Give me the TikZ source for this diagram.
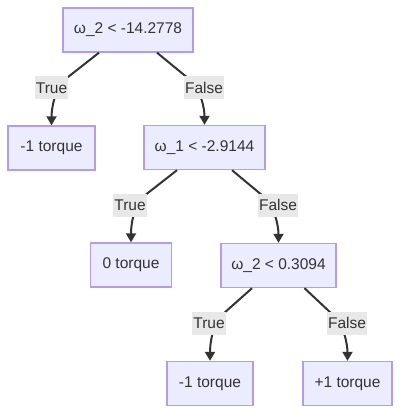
\documentclass[tikz,border=0pt]{standalone}
\usepackage{fontspec}
\setmainfont{Liberation Sans}
\usetikzlibrary{arrows.meta,calc}
\definecolor{nodefill}{HTML}{ECECFF}
\definecolor{nodeline}{HTML}{B49CE8}
\definecolor{ink}{HTML}{333333}
\definecolor{labfill}{HTML}{E8E8E8}
\begin{document}
\begin{tikzpicture}[x=1pt,y=-1pt,
  box/.style={draw=nodeline, line width=1.4pt, fill=nodefill, text=ink,
    font=\fontsize{15.5}{18}\selectfont, minimum height=44pt, inner sep=0pt},
  lab/.style={fill=labfill, text=ink, font=\fontsize{15.5}{18}\selectfont,
    inner xsep=1pt, inner ysep=0pt, minimum height=23pt},
  edge/.style={draw=ink, line width=2pt, -{Triangle[length=9pt,width=10pt]}}]
\useasboundingbox (0,0) rectangle (400,414);
% decision and leaf nodes
\node[box, minimum width=130pt] (n1) at (128,30) {ω\_2 < -14.2778};
\node[box, minimum width=87pt]  (c1) at (51.5,148) {-1 torque};
\node[box, minimum width=121pt] (n2) at (204.5,147.5) {ω\_1 < -2.9144};
\node[box, minimum width=81pt]  (c2) at (131,265) {0 torque};
\node[box, minimum width=115pt] (n3) at (278.5,265.5) {ω\_2 < 0.3094};
\node[box, minimum width=86pt]  (c3) at (210,383.5) {-1 torque};
\node[box, minimum width=89pt]  (c4) at (347.5,383.5) {+1 torque};
% label positions
\coordinate (t1) at (51.5,88);
\coordinate (f1) at (204,88);
\coordinate (t2) at (130,205);
\coordinate (f2) at (278,205);
\coordinate (t3) at (209,323);
\coordinate (f3) at (347,323);
% edges
\draw[edge] ($(n1.south)+(-29,0)$) -- ($(t1)+(14,-9)$)
  .. controls ($(t1)+(3,1)$) and ($(c1.north)+(0,-16)$) .. (c1.north);
\draw[edge] ($(n1.south)+(29,0)$) -- ($(f1)+(-15,-9)$)
  .. controls ($(f1)+(-3,1)$) and ($(n2.north)+(0,-16)$) .. (n2.north);
\draw[edge] ($(n2.south)+(-27.5,0)$) -- ($(t2)+(14,-9)$)
  .. controls ($(t2)+(3,1)$) and ($(c2.north)+(0,-16)$) .. (c2.north);
\draw[edge] ($(n2.south)+(27.5,0)$) -- ($(f2)+(-15,-9)$)
  .. controls ($(f2)+(-3,1)$) and ($(n3.north)+(0,-16)$) .. (n3.north);
\draw[edge] ($(n3.south)+(-26.5,0)$) -- ($(t3)+(14,-9)$)
  .. controls ($(t3)+(3,1)$) and ($(c3.north)+(0,-16)$) .. (c3.north);
\draw[edge] ($(n3.south)+(26,0)$) -- ($(f3)+(-15,-9)$)
  .. controls ($(f3)+(-3,1)$) and ($(c4.north)+(0,-16)$) .. (c4.north);
% edge labels
\node[lab] (t1l) at (t1) {True};
\node[lab] (f1l) at (f1) {False};
\node[lab] (t2l) at (t2) {True};
\node[lab] (f2l) at (f2) {False};
\node[lab] (t3l) at (t3) {True};
\node[lab] (f3l) at (f3) {False};
\end{tikzpicture}
\end{document}
